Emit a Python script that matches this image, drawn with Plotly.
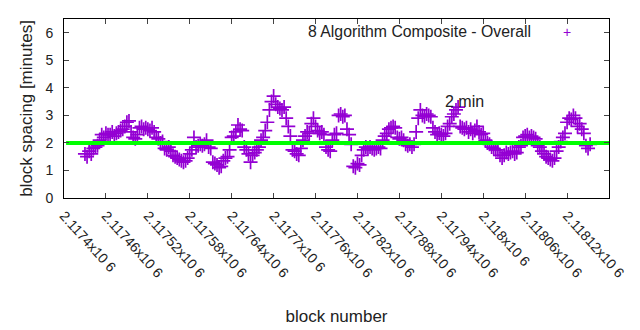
import plotly.graph_objects as go

# block numbers (consecutive samples every 3 blocks)
first_block = 2117430
block_step = 3
spacing = [
    1.6, 1.5, 1.7, 1.6,
    1.8, 1.85, 1.9,
    2.1, 2.3, 2.2, 2.35, 2.3,
    2.3, 2.4, 2.25, 2.35, 2.4, 2.45,
    2.5, 2.6, 2.75, 2.8,
    2.4, 2.2, 2.15, 2.3, 2.55, 2.6,
    2.5, 2.55, 2.5, 2.45, 2.55, 2.4,
    2.2, 2.15, 2.0, 2.05,
    1.8, 1.75, 1.85, 1.7,
    1.55, 1.5, 1.45, 1.4,
    1.35, 1.3, 1.35, 1.45,
    1.6, 1.75, 2.2, 1.85, 1.9,
    1.95, 1.9, 1.95, 2.1, 1.85, 1.8,
    1.3, 1.25, 1.2, 1.1, 1.15,
    1.35, 1.45, 1.5, 1.75,
    2.2, 2.25, 2.4, 2.65,
    2.5, 2.45, 1.85, 1.75,
    1.6, 1.3, 1.55, 1.65,
    1.75, 1.85, 2.1, 2.2,
    2.45, 2.75,
    3.2, 3.5, 3.7,
    3.4, 3.3, 3.25, 3.2, 3.3,
    2.9, 2.6, 2.25,
    1.75, 1.7, 1.6, 1.55,
    1.8, 2.1, 2.25, 2.4, 2.35,
    2.7, 2.9, 2.6,
    2.45, 2.35, 2.4, 2.3,
    1.85, 1.75, 1.7,
    2.1, 2.3, 2.35,
    3.0, 3.05, 2.95, 3.0,
    2.5, 2.3, 1.95,
    1.15, 1.1, 1.25, 1.2,
    1.55, 1.75, 1.85, 1.8, 1.85, 1.8, 1.75, 1.8, 1.85, 1.8,
    2.1, 2.25, 2.35,
    2.5, 2.55, 2.6, 2.55,
    2.2, 2.15, 2.2, 2.1,
    1.95, 1.9, 1.95, 1.85, 1.95,
    2.4, 2.9, 3.2,
    3.0, 2.95, 3.05, 3.0, 2.95,
    2.55, 2.4, 2.3, 2.35,
    2.3, 2.25, 2.35,
    2.6, 2.7,
    2.95, 3.05, 3.2, 3.3,
    2.6, 2.55, 2.5,
    2.55, 2.4, 2.5, 2.35, 2.45, 2.6, 2.4, 2.3, 2.35,
    2.1, 2.0, 1.95,
    1.85, 1.8, 1.75, 1.75,
    1.55, 1.45, 1.55,
    1.65, 1.6, 1.65, 1.7, 1.6, 1.65,
    1.85, 1.9,
    2.2, 2.25, 2.3, 2.2, 2.25, 2.2, 2.15,
    1.9, 1.85, 1.7, 1.6,
    1.5, 1.45, 1.4, 1.35, 1.45,
    1.7, 1.85, 2.05, 2.2, 2.35,
    2.75, 2.9, 2.85, 3.0, 2.9, 2.6,
    2.7, 2.5, 2.35,
    1.9, 1.8, 1.95,
]
blocks = [first_block + block_step * i for i in range(len(spacing))]

target_x = [2117403, 2118180]
target_y = [2, 2]

x_tickvals = [2117400 + 60 * i for i in range(14)]
x_ticktext = ["2.1174x10 6", "2.11746x10 6", "2.11752x10 6", "2.11758x10 6",
              "2.11764x10 6", "2.1177x10 6", "2.11776x10 6", "2.11782x10 6",
              "2.11788x10 6", "2.11794x10 6", "2.118x10 6", "2.11806x10 6",
              "2.11812x10 6", "2.11818x10 6"]
y_tickvals = [0, 1, 2, 3, 4, 5, 6]

purple = "#9400D3"
font = "Liberation Sans, Arial, sans-serif"

fig = go.Figure()
fig.add_trace(go.Scatter(
    x=blocks, y=spacing, mode="markers", showlegend=False,
    marker=dict(symbol="cross-thin", size=10, color=purple,
                line=dict(color=purple, width=1.7)),
))
fig.add_trace(go.Scatter(
    x=target_x, y=target_y, mode="lines", showlegend=False,
    line=dict(color="#00FF00", width=4),
))

fig.update_layout(
    width=640, height=330,
    margin=dict(l=64, r=31, t=19, b=132),
    paper_bgcolor="white", plot_bgcolor="white",
    font=dict(family=font, size=14, color="#222"),
    xaxis=dict(
        range=[2117400, 2118180], tickmode="array", tickvals=x_tickvals,
        ticktext=x_ticktext, tickangle=48, ticks="inside", ticklen=5,
        showline=True, linecolor="black", linewidth=1, mirror="ticks",
        showgrid=False, zeroline=False, tickfont=dict(size=14),
        ticklabelstandoff=3, automargin=False,
        title=dict(text="block number", standoff=30),
    ),
    yaxis=dict(
        range=[0, 6.5], tickmode="array", tickvals=y_tickvals,
        ticks="inside", ticklen=5,
        showline=True, linecolor="black", linewidth=1, mirror="ticks",
        showgrid=False, zeroline=False, ticklabelstandoff=7, automargin=False,
        title=dict(text="block spacing [minutes]", standoff=8),
    ),
    annotations=[
        dict(x=2117973, y=3.52, xref="x", yref="y", text="2 min",
             showarrow=False, font=dict(size=16, color="#222")),
        dict(x=533, y=32, xref="paper", yref="paper", text="8 Algorithm Composite - Overall",
             showarrow=False, xanchor="right", yanchor="middle",
             font=dict(size=15.8, color="#222")),
        dict(x=567, y=32, xref="paper", yref="paper", text="+",
             showarrow=False, xanchor="center", yanchor="middle",
             font=dict(size=14, color=purple)),
    ],
)
# convert pixel positions of legend annotations into paper coords
pw, ph = 640 - 64 - 31, 330 - 19 - 132
for a in fig.layout.annotations[1:]:
    a.x = (a.x - 64) / pw
    a.y = 1 - (a.y - 19) / ph

fig.write_html("out.html")
